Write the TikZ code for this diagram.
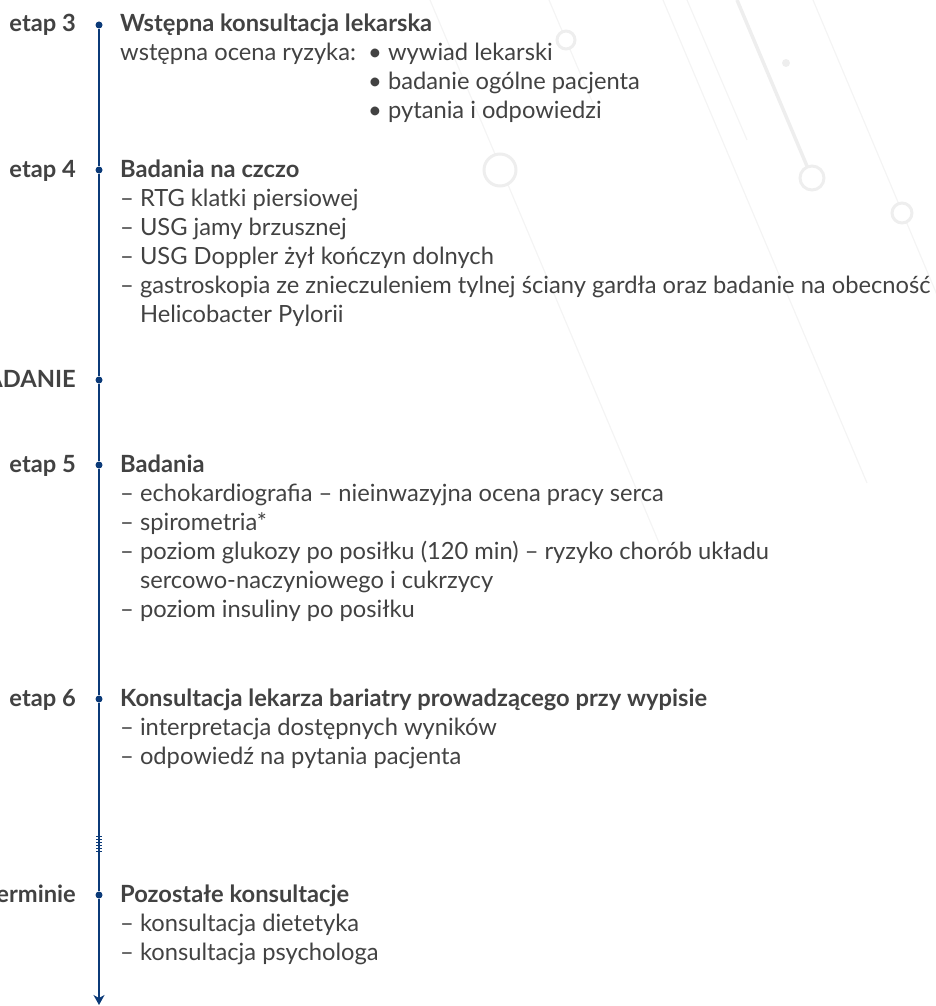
\documentclass[tikz,border=0pt]{standalone}
\usepackage{fontspec}
\setmainfont{Lato}
\usetikzlibrary{arrows.meta}
\definecolor{tlblue}{HTML}{0B3A78}
\definecolor{txtgray}{HTML}{424242}
\definecolor{bggray}{HTML}{EEEEEE}
\definecolor{bglight}{HTML}{F4F4F4}
\newcommand{\tlfont}{\fontsize{23.7}{29}\selectfont}
\newcommand{\tlblock}[1]{\parbox[t]{820pt}{\tlfont #1}}
\tikzset{
  stage/.style={anchor=base east, font=\tlfont\bfseries, text=txtgray, inner sep=0pt},
  body/.style={anchor=base west, text=txtgray, inner sep=0pt},
  tldot/.style={circle, fill=tlblue, inner sep=0pt, minimum size=7pt},
  tlline/.style={draw=tlblue, line width=1.6pt},
  bgline/.style={draw=bglight, line width=1.2pt},
  bgring/.style={draw=bggray, line width=3pt, fill=white},
}
\begin{document}
\begin{tikzpicture}[x=1pt,y=-1pt,font=\tlfont]
\useasboundingbox (0,0) rectangle (936,1006);
% background lines
\draw[bgline] (430,0) -- (660,545);
\draw[bgline] (549,0) -- (600,120);
\draw[bgline] (663,0) -- (867,483);
\draw[bgline] (687,0) -- (747,140);
\draw[draw=bggray, line width=3.5pt] (737,0) -- (812,178);
\draw[bgline] (813,0) -- (940,302);
\filldraw[bgring] (500,170) circle (16);
\filldraw[bgring] (566,40) circle (9);
\filldraw[bgring] (812,178) circle (12);
\filldraw[bgring] (902,213) circle (10);
\fill[bggray] (786,63) circle (4);
% timeline
\node[tldot] (d3) at (99,25) {};
\node[tldot] (d4) at (99,170) {};
\node[tldot] (dbad) at (99,380) {};
\node[tldot] (d5) at (99,465) {};
\node[tldot] (d6) at (99,699) {};
\node[tldot] (dpoz) at (99,895) {};
\coordinate (tlend) at (99,1005);
\draw[tlline] (d3) -- (d4) -- (dbad) -- (d5) -- (d6) -- (dpoz);
\draw[tlline, -{Stealth[length=10pt,width=11pt,inset=3pt]}] (dpoz) -- (tlend);
\foreach \y in {836,839,...,851} \draw[tlblue, line width=0.6pt] (96,\y) -- (102,\y);
% stages
\node[stage] (l3) at (76,32) {etap 3};
\node[stage] (l4) at (76,177) {etap 4};
\node[stage] (lbad) at (76,387) {ADANIE};
\node[stage] (l5) at (76,472) {etap 5};
\node[stage] (l6) at (76,706) {etap 6};
\node[stage] (lpoz) at (76,902) {erminie};
% texts
\node[body] (b3) at (120,32) {\tlblock{\textbf{Wstępna konsultacja lekarska}\\wstępna ocena ryzyka:}};
\node[body] (b3list) at (368,61) {\tlblock{• wywiad lekarski\\• badanie ogólne pacjenta\\• pytania i odpowiedzi}};
\node[body] (b4) at (120,177) {\tlblock{\textbf{Badania na czczo}\\
  – RTG klatki piersiowej\\
  – USG jamy brzusznej\\
  – USG Doppler żył kończyn dolnych\\
  – gastroskopia ze znieczuleniem tylnej ściany gardła oraz badanie na obecność\\
  \hphantom{– }Helicobacter Pylorii}};
\node[body] (b5) at (120,472) {\tlblock{\textbf{Badania}\\
  – echokardiografia – nieinwazyjna ocena pracy serca\\
  – spirometria*\\
  – poziom glukozy po posiłku (120 min) – ryzyko chorób układu\\
  \hphantom{– }sercowo-naczyniowego i cukrzycy\\
  – poziom insuliny po posiłku}};
\node[body] (b6) at (120,706) {\tlblock{\textbf{Konsultacja lekarza bariatry prowadzącego przy wypisie}\\
  – interpretacja dostępnych wyników\\
  – odpowiedź na pytania pacjenta}};
\node[body] (bpoz) at (120,902) {\tlblock{\textbf{Pozostałe konsultacje}\\
  – konsultacja dietetyka\\
  – konsultacja psychologa}};
\end{tikzpicture}
\end{document}
